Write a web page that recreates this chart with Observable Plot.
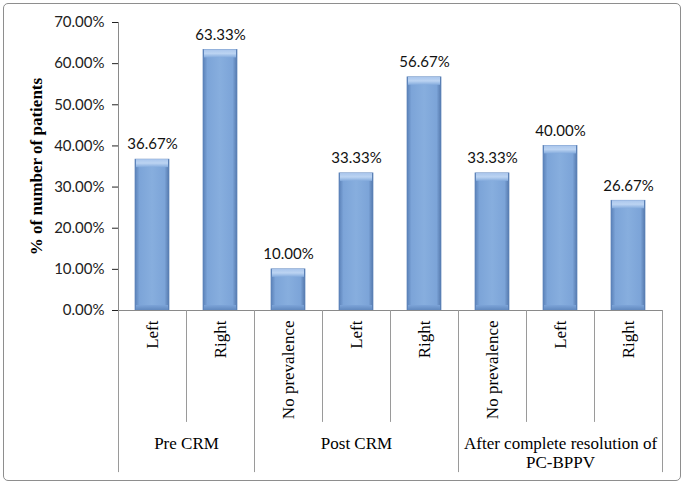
<!DOCTYPE html>
<html>
<head>
<meta charset="utf-8">
<script src="https://cdn.jsdelivr.net/npm/d3@7"></script>
<script src="https://cdn.jsdelivr.net/npm/@observablehq/plot@0.6"></script>
<style>
  html, body { margin: 0; padding: 0; background: #fff; }
  #wrap { position: relative; width: 685px; height: 486px; overflow: hidden; }
  #frame { position: absolute; left: 3px; top: 3px; width: 676px; height: 476px;
           border: 1.5px solid #8e8e8e; border-radius: 5px; pointer-events: none; }
  #chart { position: absolute; left: 0; top: 0; }
</style>
</head>
<body>
<svg width="0" height="0" style="position:absolute">
  <defs>
    <linearGradient id="barBody" x1="0" x2="1" y1="0" y2="0">
      <stop offset="0" stop-color="#5a81b8"/>
      <stop offset="0.13" stop-color="#7ca4d8"/>
      <stop offset="0.5" stop-color="#87aede"/>
      <stop offset="0.87" stop-color="#7ca4d8"/>
      <stop offset="1" stop-color="#5579ad"/>
    </linearGradient>
    <linearGradient id="barTop" x1="0" x2="0" y1="0" y2="1">
      <stop offset="0" stop-color="#a9c5ec"/>
      <stop offset="0.5" stop-color="#bcd4f2"/>
      <stop offset="1" stop-color="#84abdd"/>
    </linearGradient>
    <linearGradient id="barBottom" x1="0" x2="0" y1="0" y2="1">
      <stop offset="0" stop-color="#7ca4d8"/>
      <stop offset="1" stop-color="#6289bf"/>
    </linearGradient>
  </defs>
</svg>
<div id="wrap"><div id="chart"></div><div id="frame"></div></div>
<script>
// ---- data ----
const groups = ["Pre CRM", "Post CRM", "After complete resolution of\nPC-BPPV"];
const categories = ["Left", "Right", "No prevalence", "Left", "Right", "No prevalence", "Left", "Right"];
const groupOf = [0, 0, 1, 1, 1, 2, 2, 2];
const values = [36.67, 63.33, 10.00, 33.33, 56.67, 33.33, 40.00, 26.67];
const yTicks = [0, 10, 20, 30, 40, 50, 60, 70];
const yTitle = "% of number of patients";

const rows = categories.map((c, i) => ({i, cat: c, group: groupOf[i], v: values[i]}));

// separators between category cells (long ones at group boundaries)
const seps = d3.range(categories.length + 1).map(k => ({
  k,
  long: k === 0 || k === categories.length || groupOf[k] !== groupOf[k - 1]
}));
const groupSpans = groups.map((g, gi) => {
  const idx = rows.filter(r => r.group === gi).map(r => r.i);
  return {label: g, x: (d3.min(idx) + d3.max(idx) + 1) / 2};
});

const pct = d3.format(".2f");
const serif = "Liberation Serif, Times New Roman, serif";
const sans = "Lato, Carlito, Calibri, sans-serif";

const shortDepth = -27.2, longDepth = -39.4; // depth of the category table below the axis (in y units)

const chart = Plot.plot({
  width: 685,
  height: 486,
  marginLeft: 118,
  marginRight: 23,
  marginTop: 22,
  marginBottom: 176,
  style: {fontFamily: sans, fontSize: "15px", color: "#222", background: "transparent"},
  x: {type: "linear", domain: [0, categories.length], axis: null},
  y: {domain: [0, 70], ticks: yTicks, tickFormat: d => pct(d) + "%", tickSize: 6, tickPadding: 8, label: null, line: false},
  marks: [
    // bars
    Plot.rectY(rows, {x1: d => d.i, x2: d => d.i + 1, y1: 0, y2: "v", insetLeft: 17, insetRight: 17,
      fill: "url(#barBody)", stroke: "#5d83b9", strokeWidth: 0.7}),
    Plot.rectY(rows, {x1: d => d.i, x2: d => d.i + 1, y1: 0, y2: 0, insetLeft: 18, insetRight: 18, insetTop: -5,
      fill: "url(#barBottom)"}),
    Plot.rectY(rows, {x1: d => d.i, x2: d => d.i + 1, y1: "v", y2: "v", insetLeft: 18, insetRight: 18, insetBottom: -8,
      fill: "url(#barTop)"}),
    // value labels
    Plot.text(rows, {x: d => d.i + 0.5, y: "v", text: d => pct(d.v) + "%", dy: -15,
      fontFamily: sans, fontSize: 15, fill: "#111"}),
    // axes lines
    Plot.ruleY([0], {stroke: "#8a8a8a", strokeWidth: 1}),
    Plot.ruleX([0], {y1: 0, y2: 70, stroke: "#8a8a8a", strokeWidth: 1}),
    // category table separators
    Plot.ruleX(seps, {x: "k", y1: 0, y2: d => d.long ? longDepth : shortDepth, stroke: "#9a9a9a", strokeWidth: 1}),
    // category labels
    Plot.text(rows, {x: d => d.i + 0.5, y: 0, text: "cat", rotate: -90, textAnchor: "end", dy: 10,
      fontFamily: serif, fontSize: 17, fill: "#000"}),
    // group labels
    Plot.text(groupSpans, {x: "x", y: 0, text: "label", lineAnchor: "top", dy: 125, lineHeight: 1.12,
      fontFamily: serif, fontSize: 17, fill: "#000"}),
    // y title
    Plot.text([yTitle], {frameAnchor: "left", textAnchor: "middle", text: d => d, rotate: -90, dx: -82,
      fontFamily: serif, fontSize: 17, fontWeight: "bold", fill: "#000"})
  ]
});
document.getElementById("chart").appendChild(chart);
</script>
</body>
</html>
